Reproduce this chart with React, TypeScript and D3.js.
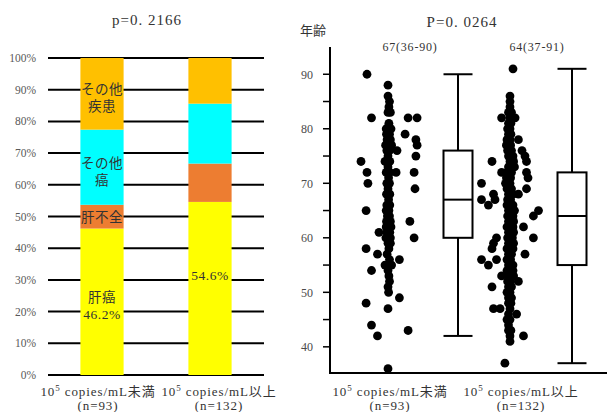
import React from "react";
import * as d3 from "d3";

// ---------- Left chart data (stacked 100% bars) ----------
const stackCategories = ["10^5 copies/mL未満", "10^5 copies/mL以上"];
const stackCounts = ["(n=93)", "(n=132)"];
const segmentKeys = ["liverCancer", "liverFailure", "otherCancer", "otherDisease"];
const liverCancer = [46.2, 54.6];
const liverFailure = [7.5, 12.1];
const otherCancer = [23.7, 18.9];
const otherDisease = [22.6, 14.4];
const pctTicks = [0, 10, 20, 30, 40, 50, 60, 70, 80, 90, 100];
const leftTitle = "p=0. 2166";
// labels drawn inside segments: [barIndex, segmentKey, lines]
const segmentLabels: [number, string, string[]][] = [
  [0, "liverCancer", ["肝癌", "46.2%"]],
  [0, "liverFailure", ["肝不全"]],
  [0, "otherCancer", ["その他", "癌"]],
  [0, "otherDisease", ["その他", "疾患"]],
  [1, "liverCancer", ["54.6%"]],
];

// ---------- Right chart data (age dot plot + box plot) ----------
const rightTitle = "P=0. 0264";
const ageAxisLabel = "年齢";
const ageMajorTicks = [40, 50, 60, 70, 80, 90];
const ageMinorTicks = [40, 45, 50, 55, 60, 65, 70, 75, 80, 85, 90];
const summaryLabels = ["67(36-90)", "64(37-91)"];
const boxMedian = [67, 64];
const boxQ1 = [60, 55];
const boxQ3 = [76, 72];
const whiskerLow = [42, 37];
const whiskerHigh = [90, 91];

// [age, jitter(-1..1)]
const group1Points: [number, number][] = [
  [90, -0.7], [82, -0.55], [82, 0.67], [82, 0.97], [79, 0.57], [78, 0.93], [77, 0.97], [76, 0.3],
  [75, 0.93], [74, -0.9], [72, -0.7], [72, 0.87], [72, 0.27], [70, -0.67], [69, 0.9], [65, -0.73],
  [63, 0.73], [61, -0.3], [60, 0.87], [58, -0.73], [57, -0.35], [56, 0.38], [55, -0.1], [54, -0.55],
  [49, 0.38], [48, -0.73], [44, -0.55], [43, 0.67], [42, -0.35], [36, 0],
  [88, 0], [86, 0], [85, 0.05], [84, 0.03], [83, 0], [83, 0.08], [81, 0.03], [80, 0], [80, 0.1],
  [79, 0.05], [79, -0.05], [78, 0.08], [78, -0.03], [77, 0.02], [77, 0.12], [77, -0.08], [80, -0.06],
  [76, 0.05], [76, -0.04], [75, 0], [74, -0.1], [74, 0.06], [73, 0], [72, 0.06], [72, -0.06],
  [71, 0.02], [70, 0.05], [70, -0.04], [69, 0], [68, 0.06], [68, -0.05], [67, 0.02],
  [66, -0.04], [66, 0.06], [66, 0], [65, 0.03], [65, -0.06], [64, 0.05], [64, -0.02], [63, 0.08],
  [63, -0.05], [63, 0], [62, 0.04], [62, -0.06], [62, 0.1], [61, 0], [61, 0.06], [61, -0.04],
  [60, 0.03], [60, -0.07], [60, 0.08],
  [59, 0], [59, 0.08], [58, 0.03], [57, -0.03], [56, 0.05], [55, 0.12], [54, 0], [53, 0.03],
  [52, 0.05], [51, 0], [50, 0.02], [47, 0],
];

const group2Points: [number, number][] = [
  [91, 0.1], [82, -0.28], [82, 0.17], [78, 0.28], [76, 0.4], [75, 0.5], [74, 0.55], [74, -0.6],
  [72, 0.55], [72, -0.28], [71, 0.6], [70, -0.95], [69, 0.55], [68, 0.28], [68, -0.55], [67, -0.95],
  [67, -0.5], [66, -0.72], [65, 0.95], [64, 0.78], [62, 0.45], [60, 0.78], [60, -0.45], [59, -0.55],
  [58, -0.6], [57, 0.5], [56, -0.95], [56, -0.45], [55, -0.72], [53, -0.28], [52, 0.28], [51, -0.6],
  [47, -0.55], [47, -0.33], [46, 0.22], [42, 0.45], [41, 0], [37, -0.17],
  [86, 0], [85, 0], [84, 0], [83, -0.05], [83, 0.05], [82, 0], [81, -0.05], [81, 0.03], [80, -0.08],
  [80, 0], [79, -0.05], [79, 0.03], [78, -0.1], [78, 0], [77, -0.12], [77, 0.02], [76, -0.08],
  [76, 0.05], [75, -0.05], [75, 0.1], [74, 0], [74, 0.12], [73, -0.05], [73, 0.08], [73, 0.15],
  [72, -0.1], [72, 0.05], [71, -0.12], [71, 0.02], [70, -0.15], [70, 0], [69, -0.1], [69, 0.05],
  [68, -0.05], [68, 0.1], [67, -0.08], [67, 0.02], [66, -0.1], [66, 0], [66, 0.1], [65, -0.05],
  [65, 0.05], [65, 0.15], [64, -0.08], [64, 0], [64, 0.1],
  [63, -0.05], [63, 0.05], [63, 0.12], [62, -0.1], [62, 0], [62, 0.1], [61, -0.05], [61, 0.05],
  [61, 0.12], [60, -0.08], [60, 0], [60, 0.08], [59, -0.05], [59, 0.05], [59, 0.12], [58, -0.1],
  [58, 0], [58, 0.1], [57, -0.05], [57, 0.05], [56, -0.1], [56, 0.02], [55, -0.05], [55, 0.1],
  [54, -0.1], [54, 0], [54, 0.1], [53, -0.05], [53, 0.05], [53, 0.12], [52, -0.08], [52, 0.02],
  [51, -0.05], [51, 0.05], [50, -0.1], [50, 0], [49, -0.05], [49, 0.05], [48, -0.05], [48, 0.03],
  [47, 0], [46, -0.05], [45, -0.1], [45, 0], [44, -0.05], [43, -0.05], [43, 0.03], [42, 0],
];
const groupPoints = [group1Points, group2Points];

// ---------- styles ----------
const FONT = "'Liberation Serif', 'DejaVu Serif', 'Noto Sans CJK JP', serif";
const TEXT = "#333333";
const segColors: Record<string, string> = {
  liverCancer: "#FFFF00",
  liverFailure: "#ED7D31",
  otherCancer: "#00FFFF",
  otherDisease: "#FFC000",
};

function CatLabel({ label, x, y }: { label: string; x: number; y: number }) {
  const [pre, rest] = label.split("^");
  const sup = rest.slice(0, 1);
  const tail = rest.slice(1);
  return (
    <text x={x} y={y} textAnchor="middle" fontSize={13} fill={TEXT} fontFamily={FONT} letterSpacing={0.9}>
      {pre}
      <tspan fontSize={9} dy={-5}>{sup}</tspan>
      <tspan dy={5}>{tail}</tspan>
    </text>
  );
}

export default function App() {
  const W = 607, H = 412;

  // Left chart scales
  const yPct = d3.scaleLinear().domain([0, 100]).range([375, 58]);
  const xBand = d3.scaleBand<number>().domain([0, 1]).range([48, 264]).paddingInner(0.6).paddingOuter(0.3);
  const rows = [0, 1].map((i) => ({
    i,
    liverCancer: liverCancer[i],
    liverFailure: liverFailure[i],
    otherCancer: otherCancer[i],
    otherDisease: otherDisease[i],
  }));
  const stacked = d3.stack<any>().keys(segmentKeys)(rows);
  const leftCatX = [98, 219];

  // Right chart scales
  const yAge = d3.scaleLinear().domain([35.2, 95]).range([373, 47]);
  const dotX = [388, 510];
  const boxX = [458, 572];
  const boxW = 29;
  const jitter = d3.scaleLinear().domain([-1, 1]).range([-30, 30]);
  const rightCatX = [390, 521];
  const summaryX = [410, 537];
  const axisX = 330;

  return (
    <svg width={W} height={H} style={{ position: "absolute", left: 0, top: 0, background: "#fff" }}>
      <rect width={W} height={H} fill="#fff" />
      {/* ---------- Left chart ---------- */}
      <text x={147} y={25} textAnchor="middle" fontSize={15} fill={TEXT} fontFamily={FONT} letterSpacing={1}>
        {leftTitle}
      </text>
      {pctTicks.map((t) => (
        <g key={t}>
          <line x1={48} x2={264} y1={yPct(t)} y2={yPct(t)} stroke="#000" strokeWidth={2} />
          <text x={36} y={yPct(t) + 4} textAnchor="end" fontSize={11.5} fill="#595959" fontFamily={FONT}>
            {t}%
          </text>
        </g>
      ))}
      {stacked.map((layer) =>
        layer.map((seg, j) => (
          <rect
            key={layer.key + j}
            x={xBand(j)}
            width={xBand.bandwidth()}
            y={yPct(seg[1])}
            height={yPct(seg[0]) - yPct(seg[1])}
            fill={segColors[layer.key]}
          />
        ))
      )}
      {segmentLabels.map(([bi, key, lines], k) => {
        const layer = stacked.find((l) => l.key === key)!;
        const seg = layer[bi];
        const mid = (yPct(seg[0]) + yPct(seg[1])) / 2;
        const lh = 17;
        const shift = lines.length === 1 && key === "liverCancer" ? -13 : lines.length === 1 ? 0 : 4;
        const cx = xBand(bi)! + xBand.bandwidth() / 2;
        return (
          <text key={k} textAnchor="middle" fontSize={13.5} fill={TEXT} fontFamily={FONT} letterSpacing={0.5}>
            {lines.map((ln, li) => (
              <tspan key={li} x={cx} y={mid + shift + (li - (lines.length - 1) / 2) * lh + 5}>
                {ln}
              </tspan>
            ))}
          </text>
        );
      })}
      {stackCategories.map((c, i) => (
        <g key={c}>
          <CatLabel label={c} x={leftCatX[i]} y={396} />
          <text x={leftCatX[i]} y={410} textAnchor="middle" fontSize={13} fill={TEXT} fontFamily={FONT} letterSpacing={0.9}>
            {stackCounts[i]}
          </text>
        </g>
      ))}

      {/* ---------- Right chart ---------- */}
      <text x={462} y={27} textAnchor="middle" fontSize={15} fill={TEXT} fontFamily={FONT} letterSpacing={1}>
        {rightTitle}
      </text>
      <text x={300} y={35} fontSize={13} fill={TEXT} fontFamily={FONT}>
        {ageAxisLabel}
      </text>
      {summaryLabels.map((s, i) => (
        <text key={s} x={summaryX[i]} y={51} textAnchor="middle" fontSize={12} fill={TEXT} fontFamily={FONT} letterSpacing={0.8}>
          {s}
        </text>
      ))}
      <line x1={axisX} x2={axisX} y1={yAge.range()[1]} y2={yAge.range()[0] + 1} stroke="#000" strokeWidth={2} />
      <line x1={axisX - 1} x2={W} y1={yAge.range()[0]} y2={yAge.range()[0]} stroke="#000" strokeWidth={2} />
      {ageMinorTicks.map((t) => (
        <line key={t} x1={axisX - 7} x2={axisX} y1={yAge(t)} y2={yAge(t)} stroke="#000" strokeWidth={1.5} />
      ))}
      {ageMajorTicks.map((t) => (
        <text key={t} x={313} y={yAge(t) + 4.5} textAnchor="end" fontSize={12} fill="#4a4a4a" fontFamily={FONT}>
          {t}
        </text>
      ))}
      {groupPoints.map((pts, g) =>
        pts.map(([age, j], k) => (
          <circle key={g + "-" + k} cx={dotX[g] + jitter(j)} cy={yAge(age)} r={4.4} fill="#000" />
        ))
      )}
      {[0, 1].map((g) => {
        const cx = boxX[g];
        const x0 = cx - boxW / 2;
        const x1 = cx + boxW / 2;
        return (
          <g key={g} stroke="#000" strokeWidth={2} fill="none">
            <line x1={cx} x2={cx} y1={yAge(whiskerHigh[g])} y2={yAge(boxQ3[g])} />
            <line x1={cx} x2={cx} y1={yAge(boxQ1[g])} y2={yAge(whiskerLow[g])} />
            <line x1={x0} x2={x1} y1={yAge(whiskerHigh[g])} y2={yAge(whiskerHigh[g])} />
            <line x1={x0} x2={x1} y1={yAge(whiskerLow[g])} y2={yAge(whiskerLow[g])} />
            <rect x={x0} y={yAge(boxQ3[g])} width={boxW} height={yAge(boxQ1[g]) - yAge(boxQ3[g])} fill="#fff" />
            <line x1={x0} x2={x1} y1={yAge(boxMedian[g])} y2={yAge(boxMedian[g])} />
          </g>
        );
      })}
      {stackCategories.map((c, i) => (
        <g key={"r" + c}>
          <CatLabel label={c} x={rightCatX[i]} y={396} />
          <text x={rightCatX[i]} y={410} textAnchor="middle" fontSize={13} fill={TEXT} fontFamily={FONT} letterSpacing={0.9}>
            {stackCounts[i]}
          </text>
        </g>
      ))}
    </svg>
  );
}
